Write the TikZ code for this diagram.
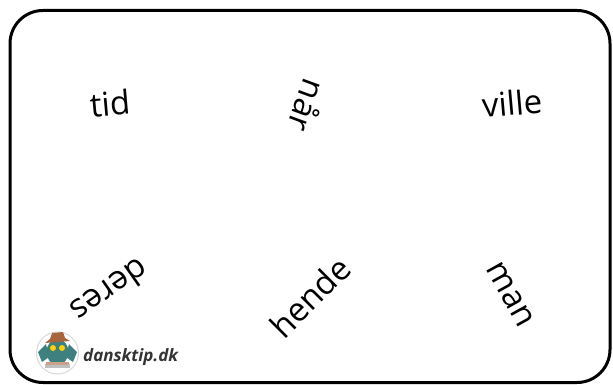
\documentclass[tikz,border=0pt]{standalone}
\usepackage{fontspec}
\setmainfont{Open Sans}
\usetikzlibrary{positioning}
\definecolor{owlteal}{HTML}{3E7F80}
\definecolor{owlhat}{HTML}{A8643A}
\definecolor{logogray}{HTML}{333333}

\begin{document}
\begin{tikzpicture}[x=1pt,y=-1pt,
    word/.style={font=\fontsize{33}{33}\selectfont,inner sep=0pt},
    logotext/.style={font=\fontsize{17}{17}\selectfont\bfseries\itshape,text=logogray,inner sep=0pt}]
  \useasboundingbox (0,0) rectangle (613,385);
  \draw[line width=3pt,rounded corners=33pt] (10,10.5) rectangle (610,382.5);
  % words
  \node[word,rotate=5]    (tid)   at (110,103) {tid};
  \node[word,rotate=-110] (naar)  at (308,106) {når};
  \node[word,rotate=5]    (ville) at (512,103) {ville};
  \node[word,rotate=-145] (deres) at (110,291) {deres};
  \node[word,rotate=45]   (hende) at (310,297) {hende};
  \node[word,rotate=-61]  (man)   at (510,295) {man};
  % logo
  \node[circle,draw=black!15,fill=white,line width=1pt,minimum size=42pt] (badge) at (57.5,353) {};
  \fill[owlteal] (46,344) -- (38,352) -- (42,362) -- (49,357) -- cycle;
  \fill[owlteal] (69,344) -- (77,352) -- (73,362) -- (66,357) -- cycle;
  \fill[owlteal] (57.5,352) ellipse (11 and 13);
  \fill[yellow!70!orange] (53,348) circle (3) (62,348) circle (3);
  \fill[owlhat] (45,343) -- (70,341) -- (65,338) -- (63,332) -- (52,333) -- (50,339) -- cycle;
  \fill[black!25] (45,364) rectangle (70,368);
  \fill[owlhat!60!white] (46,362) rectangle (69,365);
  \node[logotext,anchor=base west] (site) at (83,361) {dansktip.dk};
\end{tikzpicture}
\end{document}
